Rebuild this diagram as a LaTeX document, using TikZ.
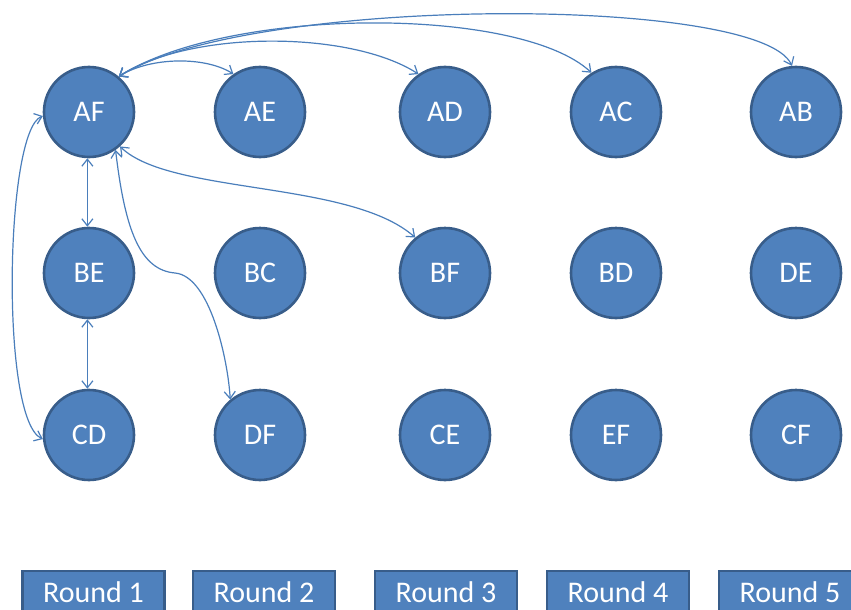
\documentclass[tikz,border=0pt]{standalone}
\usepackage{fontspec}
\setmainfont{Carlito}
\usetikzlibrary{arrows.meta}
\definecolor{nodefill}{HTML}{4F81BD}
\definecolor{nodeedge}{HTML}{385D8A}
\definecolor{linkcol}{HTML}{4A7EBB}
\tikzset{
  team/.style={circle, minimum size=90pt, inner sep=0pt, fill=nodefill, draw=nodeedge, line width=2.6pt, text=white, font=\fontsize{30}{36}\selectfont},
  roundbox/.style={rectangle, minimum width=142pt, minimum height=42pt, inner sep=0pt, fill=nodefill, draw=nodeedge, line width=2.6pt, text=white, font=\fontsize{30}{36}\selectfont},
  link/.style={draw=linkcol, line width=1.2pt, {Straight Barb[length=7pt,width=11pt]}-{Straight Barb[length=7pt,width=11pt]}}
}
\begin{document}
\begin{tikzpicture}[x=1pt,y=-1pt]
\useasboundingbox (0,0) rectangle (851,610);
\clip (0,0) rectangle (851,610);
% row 1
\node[team] (AF) at (89,112) {AF};
\node[team] (AE) at (260,112) {AE};
\node[team] (AD) at (445,112) {AD};
\node[team] (AC) at (616,112) {AC};
\node[team] (AB) at (796,112) {AB};
% row 2
\node[team] (BE) at (89,273) {BE};
\node[team] (BC) at (260,273) {BC};
\node[team] (BF) at (445,273) {BF};
\node[team] (BD) at (616,273) {BD};
\node[team] (DE) at (796,273) {DE};
% row 3
\node[team] (CD) at (89,435) {CD};
\node[team] (DF) at (260,435) {DF};
\node[team] (CE) at (445,435) {CE};
\node[team] (EF) at (616,435) {EF};
\node[team] (CF) at (796,435) {CF};
% rounds
\node[roundbox] (R1) at (93.5,592) {Round 1};
\node[roundbox] (R2) at (264,592) {Round 2};
\node[roundbox] (R3) at (446,592) {Round 3};
\node[roundbox] (R4) at (618,592) {Round 4};
\node[roundbox] (R5) at (790,592) {Round 5};
% connectors
\draw[link] (AF.50) .. controls (150,57) and (205,56) .. (AE.125);
\draw[link] (AF.50) .. controls (190,30) and (350,30) .. (AD.125);
\draw[link] (AF.50) .. controls (230,6) and (520,6) .. (AC.122);
\draw[link] (AF.50) .. controls (250,-5) and (760,-5) .. (AB.95);
\draw[link] (AF.268) -- (BE.92);
\draw[link] (BE.268) -- (CD.92);
\draw[link] (AF.185) .. controls (5,130) and (0,420) .. (CD.185);
\draw[link] (AF.-55) .. controls (125,230) and (140,270) .. (175,273) .. controls (210,276) and (228,360) .. (DF.130);
\draw[link] (AF.-48) .. controls (170,195) and (350,180) .. (BF.130);
\end{tikzpicture}
\end{document}
